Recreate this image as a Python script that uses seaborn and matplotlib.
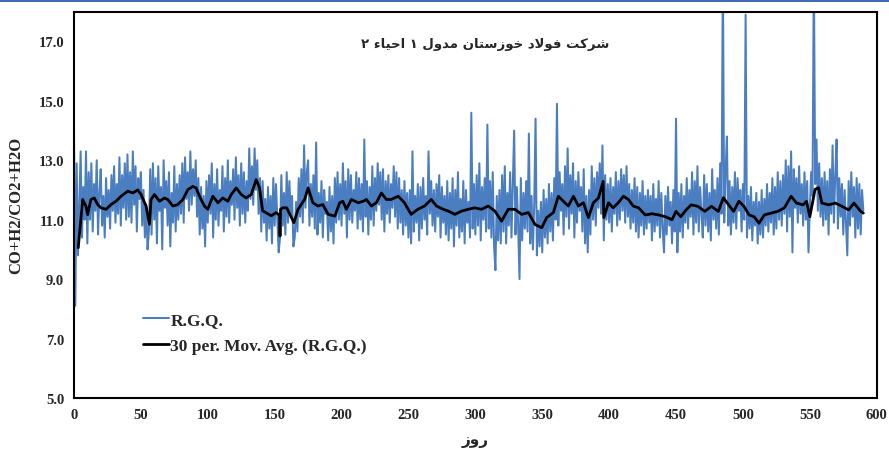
import matplotlib
matplotlib.use("Agg")
import matplotlib.pyplot as plt
import seaborn as sns
import pandas as pd
from matplotlib.patches import Rectangle

# ---------------- data ----------------
rgq = [
    14.0, 8.1, 12.9, 9.8, 11.5, 13.3, 10.4, 12.1, 11.0, 13.3,
    10.2, 12.6, 11.0, 12.9, 10.6, 12.2, 11.3, 13.0, 10.5, 11.9,
    12.7, 10.8, 11.8, 10.4, 12.4, 11.1, 12.0, 10.7, 12.5, 11.3,
    12.8, 10.9, 12.2, 11.2, 13.1, 10.8, 12.5, 11.4, 12.9, 11.0,
    13.2, 11.1, 12.6, 10.9, 13.3, 11.5, 12.8, 10.6, 12.4, 11.7,
    12.6, 10.8, 12.0, 10.4, 11.5, 10.0, 10.6, 12.7, 10.5, 12.9,
    11.0, 12.4, 10.2, 12.8, 11.3, 12.1, 10.0, 13.0, 11.4, 12.3,
    10.8, 12.6, 10.1, 11.9, 10.9, 12.8, 10.6, 12.2, 11.0, 12.5,
    11.2, 12.9, 10.9, 13.1, 11.7, 12.6, 11.3, 13.3, 11.5, 12.7,
    11.8, 13.0, 11.1, 12.4, 10.5, 12.1, 10.7, 11.8, 10.1, 12.3,
    10.9, 12.5, 11.2, 12.9, 10.4, 12.2, 11.0, 12.7, 10.8, 12.0,
    11.3, 12.8, 10.6, 12.4, 11.1, 13.0, 10.9, 12.3, 11.5, 12.7,
    11.0, 13.1, 11.4, 12.5, 10.8, 12.9, 11.2, 12.6, 10.9, 12.3,
    11.3, 13.4, 11.7, 12.8, 11.5, 13.4, 12.0, 13.0, 11.2, 12.4,
    10.6, 12.3, 10.9, 11.7, 10.3, 12.1, 10.7, 11.8, 10.2, 12.4,
    10.8, 12.2, 11.0, 9.9, 10.4, 12.5, 10.8, 11.9, 10.5, 12.6,
    10.9, 12.3, 11.2, 11.8, 10.1, 10.4, 11.6, 10.6, 12.4, 11.1,
    12.7, 10.9, 13.5, 11.4, 12.6, 13.0, 10.8, 12.2, 11.1, 12.5,
    10.7, 13.6, 10.5, 11.9, 10.9, 12.3, 10.4, 12.0, 11.2, 11.6,
    10.3, 12.1, 10.6, 11.8, 10.2, 12.4, 10.9, 12.6, 11.0, 12.2,
    10.8, 12.9, 11.2, 12.3, 10.4, 12.7, 11.0, 12.5, 10.9, 12.0,
    11.3, 12.6, 10.7, 12.4, 11.0, 12.2, 10.6, 13.7, 11.1, 12.3,
    10.5, 12.1, 11.0, 12.8, 10.8, 12.4, 11.3, 12.9, 11.5, 12.6,
    11.0, 12.7, 10.6, 12.3, 11.2, 12.5, 10.9, 12.2, 11.4, 12.8,
    11.1, 12.6, 10.7, 12.4, 10.9, 12.0, 10.5, 12.3, 10.8, 11.9,
    10.4, 12.0, 10.2, 13.3, 10.6, 11.8, 10.9, 12.2, 10.3, 12.1,
    10.7, 12.4, 11.0, 11.8, 10.5, 13.3, 11.2, 12.3, 10.8, 12.0,
    10.6, 12.2, 11.1, 12.5, 10.4, 12.1, 10.9, 11.8, 10.5, 12.3,
    10.3, 11.9, 10.7, 12.4, 10.1, 12.0, 10.8, 12.6, 10.4, 11.7,
    10.6, 12.3, 10.2, 12.0, 10.9, 11.6, 10.4, 14.6, 10.7, 12.2,
    10.5, 12.5, 10.8, 12.9, 10.3, 12.1, 11.0, 12.4, 10.6, 14.2,
    10.7, 12.3, 10.4, 12.6, 10.1, 9.3, 11.8, 10.3, 12.0, 10.2,
    12.5, 10.6, 12.8, 10.2, 11.9, 10.8, 12.6, 10.4, 12.2, 14.0,
    10.5, 12.1, 10.8, 9.0, 12.4, 10.3, 11.9, 10.7, 12.3, 10.6,
    13.9, 10.2, 11.8, 10.0, 11.5, 14.4, 9.8, 11.3, 10.1, 11.6,
    9.9, 12.0, 10.4, 11.7, 10.2, 12.2, 10.6, 11.9, 10.3, 12.4,
    11.0, 14.9, 10.8, 12.6, 11.3, 12.2, 10.5, 12.8, 11.1, 13.4,
    10.7, 12.5, 11.2, 12.9, 10.4, 12.3, 10.9, 12.6, 11.3, 12.1,
    10.6, 12.7, 10.2, 11.8, 9.9, 12.0, 10.5, 12.8, 11.0, 12.4,
    10.8, 12.6, 11.4, 12.9, 11.2, 13.5, 10.3, 12.5, 11.0, 12.2,
    10.9, 12.4, 10.6, 12.1, 11.2, 12.6, 10.8, 12.3, 11.0, 12.7,
    11.3, 12.5, 10.9, 12.8, 11.1, 12.2, 10.7, 12.0, 10.9, 12.4,
    10.6, 12.1, 10.4, 11.9, 10.8, 12.3, 10.5, 11.8, 10.7, 12.0,
    10.9, 11.8, 10.3, 12.2, 10.6, 11.7, 10.8, 12.3, 10.4, 11.9,
    10.7, 9.9, 11.8, 10.5, 12.1, 10.8, 11.6, 10.2, 12.0, 10.6,
    14.4, 9.9, 11.9, 10.6, 12.2, 10.4, 11.8, 10.9, 12.4, 10.7,
    12.0, 11.1, 12.6, 10.5, 12.3, 10.9, 12.8, 10.6, 12.1, 11.2,
    10.4, 12.5, 10.8, 12.2, 10.6, 11.9, 10.3, 12.7, 11.0, 12.0,
    10.7, 12.4, 10.5, 12.9, 11.2, 19.5, 10.9, 12.6, 13.8, 10.8,
    12.3, 10.5, 12.1, 10.9, 12.6, 10.7, 12.4, 11.3, 12.0, 10.6,
    12.2, 11.0, 17.9, 10.4, 11.8, 10.7, 12.1, 10.3, 11.6, 10.8,
    11.9, 10.2, 11.6, 10.5, 12.0, 10.4, 11.7, 10.8, 12.2, 10.6,
    11.9, 10.9, 12.4, 10.5, 12.1, 10.7, 12.6, 11.0, 12.3, 10.8,
    12.5, 11.2, 13.0, 10.6, 12.8, 11.1, 13.3, 9.9, 12.7, 11.4,
    12.4, 10.9, 12.8, 11.2, 12.2, 10.8, 12.6, 11.0, 12.3, 9.9,
    11.4, 12.6, 11.8, 19.5, 12.2, 13.7, 11.3, 12.9, 11.1, 12.4,
    10.8, 12.6, 11.0, 12.3, 10.5, 12.7, 11.2, 13.5, 10.9, 12.5,
    13.7, 10.7, 12.4, 11.1, 12.2, 10.5, 12.0, 10.9, 9.8, 12.3,
    10.8, 12.6, 11.1, 12.1, 10.4, 12.4, 10.7, 12.2, 10.5, 12.0,
    11.3,
]
days = list(range(len(rgq)))

ma_days = [
    3.2, 6.5, 9.0, 10.2, 12.7, 15.2, 17.7, 20.2, 24.0, 27.7, 31.4, 35.2, 40.2, 44.0,
    47.7, 50.1, 53.9, 56.4, 57.6, 60.1, 63.9, 67.6, 70.1, 73.9, 77.6, 81.4, 85.1,
    88.8, 91.3, 93.8, 97.5, 100.0, 103.8, 107.6, 111.3, 115.0, 117.6, 121.3, 125.0,
    128.7, 132.5, 136.2, 138.7, 141.0, 147.5, 151.0, 153.6, 154.0, 154.4, 156.0,
    159.0, 164.4, 167.5, 172.4, 175.0, 178.6, 182.4, 186.0, 190.0, 195.0, 198.6,
    201.0, 203.6, 207.3, 212.4, 216.0, 218.6, 222.3, 226.0, 229.8, 233.5, 237.0,
    242.3, 247.0, 252.0, 257.0, 262.0, 267.0, 271.0, 276.0, 279.7, 284.7, 289.7,
    294.7, 299.6, 304.6, 309.6, 314.6, 319.6, 324.6, 329.6, 334.6, 339.6, 344.6,
    349.6, 353.3, 358.3, 362.0, 365.8, 369.5, 373.3, 377.0, 380.8, 384.5, 388.2,
    392.0, 395.5, 396.0, 399.5, 403.0, 406.8, 410.7, 414.4, 418.0, 422.0, 427.0,
    432.0, 437.0, 442.0, 447.0, 450.0, 453.5, 457.5, 461.3, 466.3, 471.5, 476.5,
    481.6, 485.4, 489.3, 493.0, 497.0, 500.8, 504.6, 508.4, 512.0, 516.0, 521.0,
    526.0, 531.0, 536.0, 540.0, 545.0, 547.5, 550.0, 553.9, 556.5, 559.0, 564.0,
    569.0, 574.0, 579.0, 583.0, 588.0, 590.0,
]
ma_vals = [
    10.06, 11.68, 11.45, 11.17, 11.68, 11.73, 11.51, 11.40, 11.35, 11.51, 11.62, 11.79, 11.96, 11.90,
    12.00, 11.85, 11.46, 10.84, 11.68, 11.85, 11.62, 11.73, 11.68, 11.46, 11.51, 11.68, 12.01,
    12.12, 12.07, 11.79, 11.46, 11.35, 11.79, 11.57, 11.73, 11.62, 11.85, 12.07, 11.85,
    11.73, 11.85, 12.35, 12.07, 11.30, 11.13, 11.24, 11.15, 10.45, 11.35, 11.40,
    11.40, 10.90, 11.35, 11.68, 12.07, 11.57, 11.46, 11.51, 11.18, 11.12, 11.57,
    11.62, 11.35, 11.68, 11.57, 11.62, 11.68, 11.46, 11.57, 11.90, 11.68, 11.68,
    11.79, 11.57, 11.18, 11.35, 11.46, 11.68, 11.46, 11.35, 11.29, 11.18, 11.29,
    11.35, 11.40, 11.35, 11.46, 11.29, 10.95, 11.35, 11.35, 11.18, 11.24, 10.84,
    10.73, 11.07, 11.24, 11.79, 11.62, 11.46, 11.79, 11.46, 11.57, 11.07, 11.57,
    11.73, 12.29, 11.07, 11.57, 11.40, 11.57, 11.79, 11.68, 11.46, 11.40, 11.16,
    11.20, 11.16, 11.10, 11.00, 11.28, 11.10, 11.33, 11.50, 11.45, 11.28, 11.45,
    11.28, 11.74, 11.50, 11.28, 11.62, 11.45, 11.16, 11.10, 10.88, 11.16, 11.22,
    11.28, 11.40, 11.79, 11.56, 11.50, 11.62, 11.10, 12.02, 12.08, 11.56, 11.50,
    11.56, 11.45, 11.33, 11.56, 11.28, 11.22,
]

x_ticks = [0, 50, 100, 150, 200, 250, 300, 350, 400, 450, 500, 550, 600]
y_ticks = [5.0, 7.0, 9.0, 11.0, 13.0, 15.0, 17.0]
title_text = "شرکت فولاد خوزستان مدول ۱ احیاء ۲"
xlabel_text = "روز"
ylabel_text = "CO+H2/CO2+H2O"
legend_labels = ["R.G.Q.", "30 per. Mov. Avg. (R.G.Q.)"]

# ---------------- simple Arabic/Persian shaping for display ----------------
FORMS = {  # isolated, final, initial, medial
    'ا': ('\uFE8D', '\uFE8E', None, None),
    'ت': ('\uFE95', '\uFE96', '\uFE97', '\uFE98'),
    'ح': ('\uFEA1', '\uFEA2', '\uFEA3', '\uFEA4'),
    'خ': ('\uFEA5', '\uFEA6', '\uFEA7', '\uFEA8'),
    'د': ('\uFEA9', '\uFEAA', None, None),
    'ر': ('\uFEAD', '\uFEAE', None, None),
    'ز': ('\uFEAF', '\uFEB0', None, None),
    'س': ('\uFEB1', '\uFEB2', '\uFEB3', '\uFEB4'),
    'ش': ('\uFEB5', '\uFEB6', '\uFEB7', '\uFEB8'),
    'ف': ('\uFED1', '\uFED2', '\uFED3', '\uFED4'),
    'ل': ('\uFEDD', '\uFEDE', '\uFEDF', '\uFEE0'),
    'م': ('\uFEE1', '\uFEE2', '\uFEE3', '\uFEE4'),
    'ن': ('\uFEE5', '\uFEE6', '\uFEE7', '\uFEE8'),
    'و': ('\uFEED', '\uFEEE', None, None),
    'ء': ('\uFE80', None, None, None),
    'ک': ('\uFB8E', '\uFB8F', '\uFB90', '\uFB91'),
    'ی': ('\uFBFC', '\uFBFD', '\uFBFE', '\uFBFF'),
}


def dual(c):
    return c in FORMS and FORMS[c][2] is not None


def joins(c):
    return c in FORMS and FORMS[c][1] is not None


def shape(text):
    out = []
    i = 0
    n = len(text)
    while i < n:
        c = text[i]
        prev = text[i - 1] if i > 0 else ''
        cp = dual(prev)
        if c == 'ل' and i + 1 < n and text[i + 1] == 'ا':
            out.append('\uFEFC' if cp else '\uFEFB')
            i += 2
            continue
        if c not in FORMS:
            out.append(c)
            i += 1
            continue
        nxt = text[i + 1] if i + 1 < n else ''
        cn = dual(c) and joins(nxt)
        cp = cp and joins(c)
        f = FORMS[c]
        if cp and cn:
            g = f[3]
        elif cp:
            g = f[1]
        elif cn:
            g = f[2]
        else:
            g = f[0]
        out.append(g)
        i += 1
    return ''.join(reversed(out))


# ---------------- plot ----------------
sns.set_style("white")
plt.rcParams['font.family'] = ['Liberation Serif', 'DejaVu Serif']

fig = plt.figure(figsize=(8.89, 4.52), dpi=100)
ax = fig.add_axes([0.0832, 0.1173, 0.9030, 0.8546])

df_raw = pd.DataFrame({"day": days, "val": rgq})
df_ma = pd.DataFrame({"day": ma_days, "val": ma_vals})

sns.lineplot(data=df_raw, x="day", y="val", ax=ax, color="#4a7ec0", lw=1.45,
             label=legend_labels[0], estimator=None, sort=False)
sns.lineplot(data=df_ma, x="day", y="val", ax=ax, color="#000000", lw=2.0,
             label=legend_labels[1], estimator=None, sort=False)

ax.set_xlim(0, 600)
ax.set_ylim(5, 18)
ax.set_xticks(x_ticks)
ax.set_xticklabels([str(t) for t in x_ticks])
ax.set_yticks(y_ticks)
ax.set_yticklabels([f"{t:.1f}" for t in y_ticks])
ax.tick_params(axis='both', direction='in', length=4, width=1.2, color='black',
               labelsize=10.5, pad=7)
for lab in ax.get_xticklabels() + ax.get_yticklabels():
    lab.set_fontweight('bold')
for s in ax.spines.values():
    s.set_visible(True)
    s.set_color('black')
    s.set_linewidth(1.5)

ax.set_xlabel(shape(xlabel_text), family=['DejaVu Sans'], fontsize=11,
              fontweight='bold', labelpad=8)
ax.set_ylabel(ylabel_text, fontsize=12, fontweight='bold', labelpad=10)

ax.text(0.512, 0.917, shape(title_text), transform=ax.transAxes,
        family=['DejaVu Sans'], fontsize=9.5, fontweight='bold',
        ha='center', va='center')

leg = ax.legend(loc='upper left', bbox_to_anchor=(0.066, 0.262), frameon=False,
                handlelength=1.5, handletextpad=0.1, labelspacing=0.55,
                prop={'family': 'Liberation Serif', 'weight': 'bold', 'size': 12.5})

fig.add_artist(Rectangle((0, 1 - 2.5 / 452), 1, 2.5 / 452, transform=fig.transFigure,
                         color='#3d6cb4', lw=0))

fig.savefig("out.png", dpi=100)
